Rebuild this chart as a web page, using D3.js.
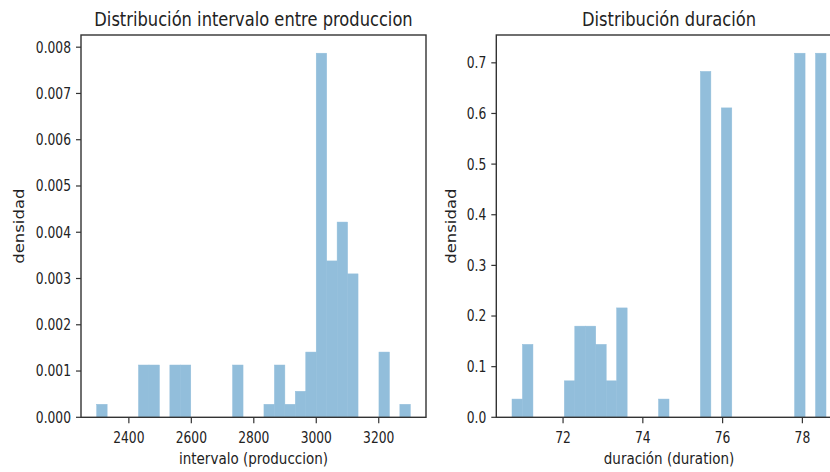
<!DOCTYPE html>
<html>
<head>
<meta charset="utf-8">
<script src="https://cdn.jsdelivr.net/npm/d3@7/dist/d3.min.js"></script>
<style>
  html, body { margin: 0; padding: 0; background: #fff; }
  svg { display: block; }
  text { font-family: "DejaVu Sans", sans-serif; fill: #222; }
</style>
</head>
<body>
<svg id="chart" width="830" height="472"></svg>
<script>
// Histogram of the interval between productions (30 equal-width bins, density)
const intervaloBinStart = 2297;
const intervaloBinWidth = 33.47;
const intervaloDensity = [
  0.000281, 0, 0, 0, 0.00113, 0.00113, 0, 0.00113, 0.00113, 0,
  0, 0, 0, 0.00113, 0, 0, 0.000281, 0.00113, 0.000281, 0.000562,
  0.00141, 0.00787, 0.00338, 0.00422, 0.00310, 0, 0, 0.00141, 0, 0.000281
];
const intervaloXTicks = [2400, 2600, 2800, 3000, 3200];
const intervaloYTicks = [0, 0.001, 0.002, 0.003, 0.004, 0.005, 0.006, 0.007, 0.008];

// Histogram of durations (30 equal-width bins, density)
const duracionBinStart = 70.72;
const duracionBinWidth = 0.2624;
const duracionDensity = [
  0.036, 0.144, 0, 0, 0, 0.072, 0.180, 0.180, 0.144, 0.072,
  0.216, 0, 0, 0, 0.036, 0, 0, 0, 0.683, 0,
  0.611, 0, 0, 0, 0, 0, 0, 0.719, 0, 0.719
];
const duracionXTicks = [72, 74, 76, 78];
const duracionYTicks = [0, 0.1, 0.2, 0.3, 0.4, 0.5, 0.6, 0.7];

const panels = [
  {
    title: "Distribución intervalo entre produccion",
    xlabel: "intervalo (produccion)",
    ylabel: "densidad",
    start: intervaloBinStart, width: intervaloBinWidth, density: intervaloDensity,
    xTicks: intervaloXTicks, yTicks: intervaloYTicks, yFmt: d3.format(".3f"),
    left: 81, right: 426, ylabelX: 24
  },
  {
    title: "Distribución duración",
    xlabel: "duración (duration)",
    ylabel: "densidad",
    start: duracionBinStart, width: duracionBinWidth, density: duracionDensity,
    xTicks: duracionXTicks, yTicks: duracionYTicks, yFmt: d3.format(".1f"),
    left: 496.3, right: 841.7, ylabelX: 456
  }
];

const plotTop = 35, plotBottom = 417.3;
const stretch = 1.22;           // vertical glyph stretch of the rendered figure
const spineColor = "#333";
const barColor = "#92bedb";     // half-transparent matplotlib blue over white

const svg = d3.select("#chart");

function label(g, x, y, str, size, anchor, rotate, dy) {
  const t = g.append("text")
    .attr("transform", `translate(${x},${y}) scale(1,${stretch})` + (rotate ? " rotate(-90)" : ""))
    .attr("font-size", size)
    .attr("text-anchor", anchor)
    .text(str);
  if (dy) t.attr("dy", dy);
  return t;
}

panels.forEach(p => {
  const bins = p.density.map((d, i) => ({ x0: p.start + i * p.width, x1: p.start + (i + 1) * p.width, d }));
  const lo = bins[0].x0, hi = bins[bins.length - 1].x1;
  const pad = (hi - lo) * 0.05;
  const x = d3.scaleLinear().domain([lo - pad, hi + pad]).range([p.left, p.right]);
  const y = d3.scaleLinear().domain([0, d3.max(p.density) * 1.05]).range([plotBottom, plotTop]);

  const g = svg.append("g");

  // bars (opaque fill with a matching hairline so adjacent bins join without seams)
  g.append("g").selectAll("rect")
    .data(bins.filter(b => b.d > 0))
    .join("rect")
    .attr("x", b => x(b.x0))
    .attr("width", b => x(b.x1) - x(b.x0))
    .attr("y", b => y(b.d))
    .attr("height", b => y(0) - y(b.d))
    .attr("fill", barColor)
    .attr("stroke", barColor)
    .attr("stroke-width", 0.5);

  // frame
  g.append("rect")
    .attr("x", p.left).attr("y", plotTop)
    .attr("width", p.right - p.left).attr("height", plotBottom - plotTop)
    .attr("fill", "none").attr("stroke", spineColor).attr("stroke-width", 1.4);

  // y ticks
  p.yTicks.forEach(v => {
    const yy = y(v);
    g.append("line").attr("x1", p.left - 5).attr("x2", p.left).attr("y1", yy).attr("y2", yy)
      .attr("stroke", spineColor).attr("stroke-width", 1.2);
    label(g, p.left - 10, yy, p.yFmt(v), 12.3, "end", false, "0.36em");
  });

  // x ticks
  p.xTicks.forEach(v => {
    const xx = x(v);
    g.append("line").attr("x1", xx).attr("x2", xx).attr("y1", plotBottom).attr("y2", plotBottom + 6)
      .attr("stroke", spineColor).attr("stroke-width", 1.2);
    label(g, xx, 442.5, String(v), 12.3, "middle");
  });

  // titles and axis labels
  const cx = (p.left + p.right) / 2;
  label(g, cx, 25.5, p.title, 16.3, "middle");
  label(g, cx, 464, p.xlabel, 13.5, "middle");
  label(g, p.ylabelX, (plotTop + plotBottom) / 2, p.ylabel, 13.5, "middle", true);
});
</script>
</body>
</html>
